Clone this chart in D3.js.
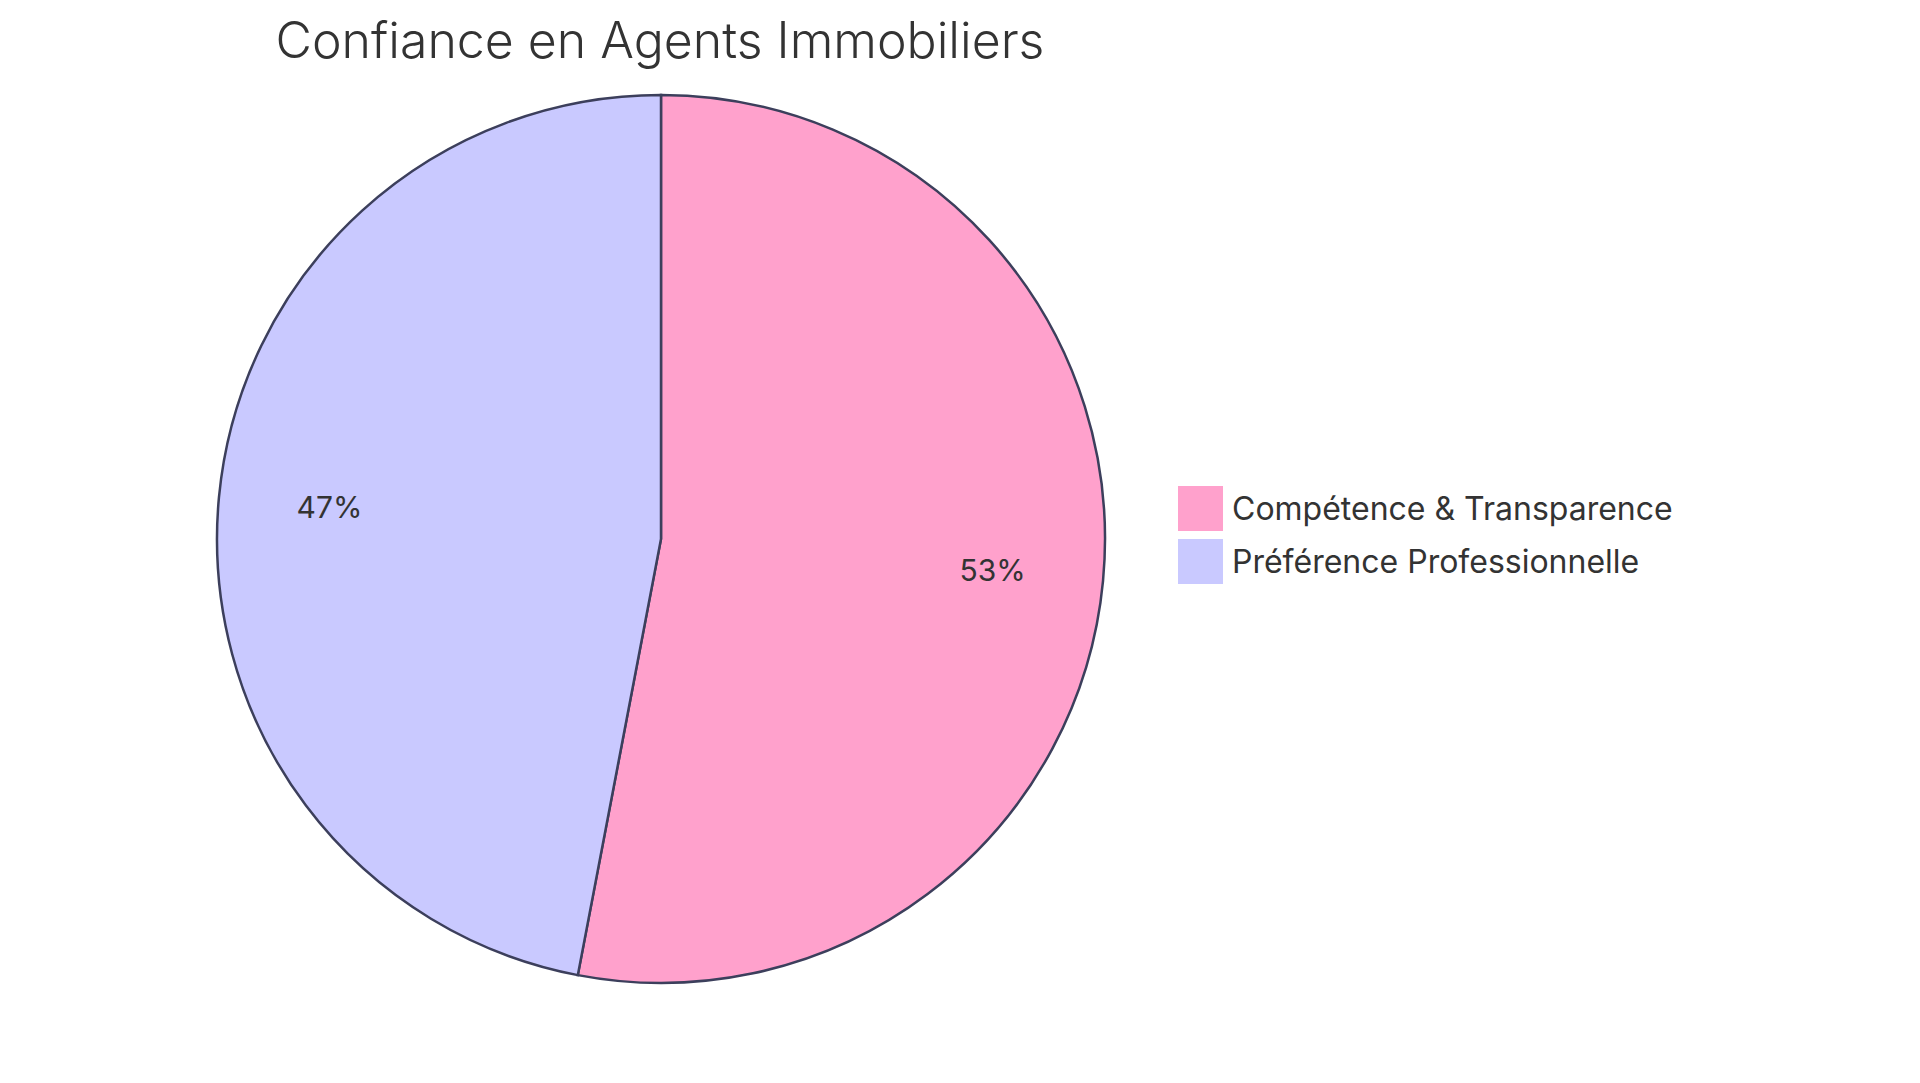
<!DOCTYPE html><html><head><meta charset="utf-8"><script src="https://cdn.jsdelivr.net/npm/d3@7"></script>
<style>body{margin:0;background:#fff}text{font-family:Inter,"Open Sans",sans-serif;fill:#333}</style></head><body><script>
const categories=["Compétence & Transparence","Préférence Professionnelle"];
const values=[53,47];
const colors=["#FFA1CC","#C9C9FF"];
const title="Confiance en Agents Immobiliers";
const W=1920,H=1083,cx=661,cy=539,R=444;
const svg=d3.select("body").append("svg").attr("width",W).attr("height",H);
svg.append("text").attr("x",660).attr("y",58).attr("text-anchor","middle").style("font-size","50px").style("font-weight","300").text(title);
const pie=d3.pie().sort(null)(values);
const arc=d3.arc().innerRadius(0).outerRadius(R);
const g=svg.append("g").attr("transform",`translate(${cx},${cy})`);
g.selectAll("path").data(pie).join("path").attr("d",arc).attr("fill",(d,i)=>colors[i]).attr("stroke","#3c3f5c").attr("stroke-width",2.5);
const la=d3.arc().innerRadius(R*0.75).outerRadius(R*0.75);
g.selectAll("text.l").data(pie).join("text").attr("transform",d=>`translate(${la.centroid(d)})`).attr("text-anchor","middle").attr("dy","0.35em").style("font-size","30px").text(d=>d.data+"%");
const lg=svg.append("g").attr("transform","translate(1178,486)");
categories.forEach((c,i)=>{const y=i*53;
lg.append("rect").attr("x",0).attr("y",y).attr("width",45).attr("height",45).attr("fill",colors[i]);
lg.append("text").attr("x",54).attr("y",y+23).attr("dy","0.35em").style("font-size","32px").text(c);});
</script></body></html>
